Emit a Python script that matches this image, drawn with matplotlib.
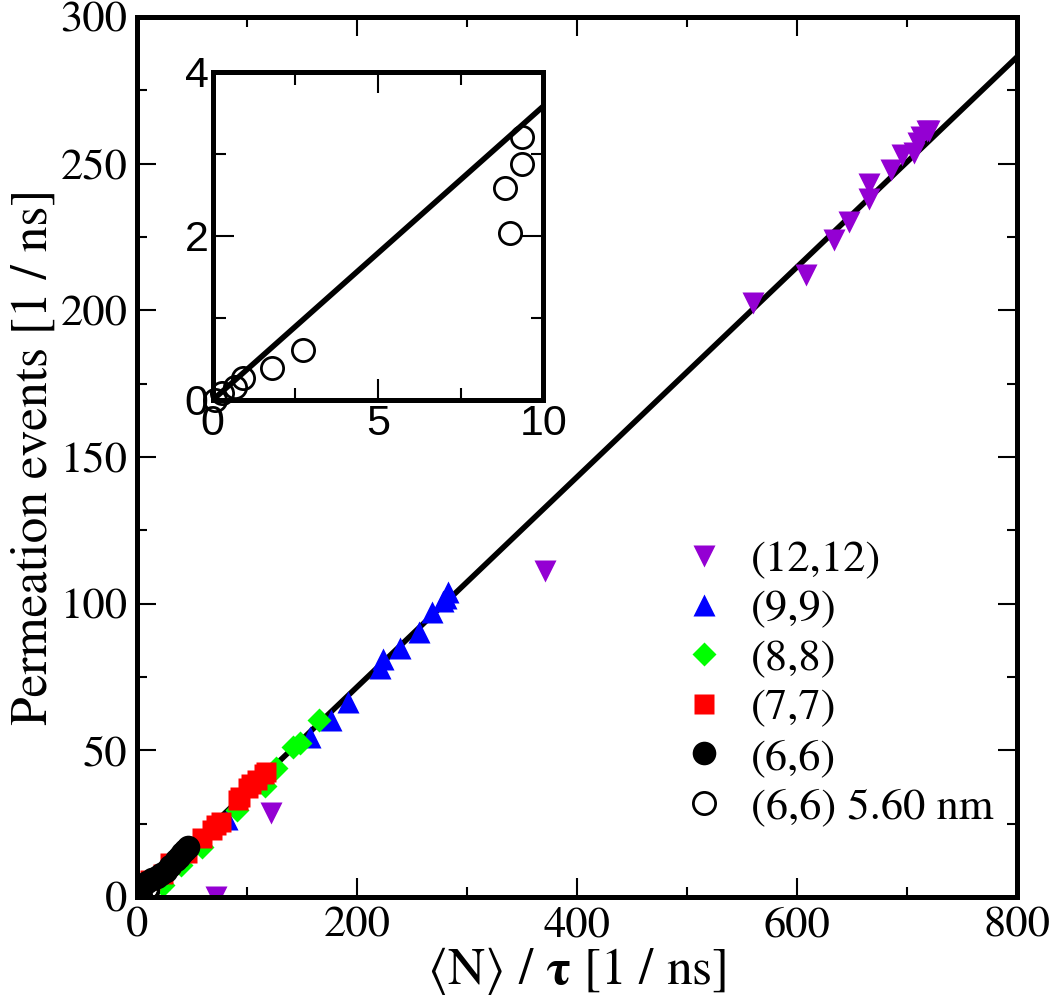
import matplotlib
matplotlib.use("Agg")
import matplotlib.pyplot as plt
from matplotlib.ticker import MultipleLocator
import numpy as np

# fitted line: events = SLOPE * <N>/tau
SLOPE = 0.358

# (12,12)
x_12 = [560, 608, 634, 647, 665, 665, 685, 695, 706, 710, 713, 718, 720, 371, 122, 72]
y_12 = [202.5, 212, 224, 230, 238, 243, 248, 253, 253.5, 257, 259, 261, 261, 111, 28.5, 0]
# (9,9)
x_9 = [283, 281, 278, 268, 256, 239, 224, 221, 192, 176, 157, 82, 20]
y_9 = [104, 102, 101, 97, 90.5, 85, 81, 78, 66.5, 60.5, 54.7, 26.5, 6]
# (8,8)
x_8 = [165, 148, 142, 126, 116, 91, 59, 40, 24]
y_8 = [60.3, 52.5, 51, 44, 38, 29.5, 17, 11, 4]
# (7,7)
x_7 = [117, 115, 109, 104, 101, 94, 92, 76, 72, 68, 59, 45, 30, 24, 12, 4]
y_7 = [42.5, 42, 40, 38.5, 37, 34, 33, 25.5, 24.5, 22.8, 20, 15, 11.6, 8, 5.8, 2]
# (6,6)
x_6 = [46, 44, 41, 38, 35, 30, 26, 22, 18, 14, 9, 5, 2, 0.5, 0.2]
y_6 = [17, 16, 15, 13.7, 12.5, 10.5, 9, 8, 6.9, 6, 5.2, 4, 3, 2, 0.5]
# (6,6) 5.60 nm
x_6l = [9.36, 9.36, 8.85, 8.99, 2.72, 1.78, 0.93, 0.68, 0.27, 0.07]
y_6l = [3.20, 2.875, 2.58, 2.03, 0.61, 0.39, 0.27, 0.16, 0.08, 0.0]

SERIF = ["STIXGeneral", "Liberation Serif", "DejaVu Serif"]
plt.rcParams["font.family"] = SERIF
plt.rcParams["mathtext.fontset"] = "stix"

fig = plt.figure(figsize=(10.5, 10.08), dpi=100)
ax = fig.add_axes([0.1305, 0.1101, 0.8381, 0.8730])

xl = np.array([0, 800])
ax.plot(xl, SLOPE * xl, color="k", lw=4, zorder=1)
ax.plot(x_12, y_12, "v", ms=16.5, color="#9400d3", mec="none", label="(12,12)", zorder=2)
ax.plot(x_9, y_9, "^", ms=16.5, color="#0000ff", mec="none", label="(9,9)", zorder=2)
ax.plot(x_8, y_8, "D", ms=12, color="#00ff00", mec="none", label="(8,8)", zorder=2)
ax.plot(x_7, y_7, "s", ms=15, color="#ff0000", mec="none", label="(7,7)", zorder=2)
ax.plot(x_6, y_6, "o", ms=17, color="k", mec="none", label="(6,6)", zorder=2)
ax.plot(x_6l, y_6l, "o", ms=16, mfc="none", mec="k", mew=2, label="(6,6) 5.60 nm", zorder=2)

ax.set_xlim(0, 800)
ax.set_ylim(0, 300)
ax.xaxis.set_major_locator(MultipleLocator(200))
ax.xaxis.set_minor_locator(MultipleLocator(100))
ax.yaxis.set_major_locator(MultipleLocator(50))
ax.yaxis.set_minor_locator(MultipleLocator(25))
ax.tick_params(which="both", direction="in", top=True, right=True, labelsize=32, width=1.5)
ax.tick_params(which="major", length=14, pad=7)
ax.tick_params(which="minor", length=7)
for sp in ax.spines.values():
    sp.set_linewidth(3.6)
ax.set_xlabel(r"$\langle$N$\rangle$ / $\mathbf{\tau}$ [1 / ns]", fontsize=37, labelpad=0)
ax.set_ylabel("Permeation events [1 / ns]", fontsize=37, labelpad=2)

ax.legend(loc="lower left", bbox_to_anchor=(0.599, 0.059), frameon=False, fontsize=32,
          handlelength=1.0, handletextpad=0.55, labelspacing=0.21, borderaxespad=0)

# inset
ins = fig.add_axes([0.2026, 0.6032, 0.3149, 0.3257])
xi = np.array([0, 10])
ins.plot(xi, SLOPE * xi, color="k", lw=4, zorder=1)
ins.plot(x_6l, y_6l, "o", ms=16, mfc="none", mec="k", mew=2, zorder=2, clip_on=False)
ins.set_xlim(0, 10)
ins.set_ylim(0, 4)
ins.xaxis.set_major_locator(MultipleLocator(5))
ins.xaxis.set_minor_locator(MultipleLocator(2.5))
ins.yaxis.set_major_locator(MultipleLocator(2))
ins.yaxis.set_minor_locator(MultipleLocator(1))
ins.tick_params(which="both", direction="in", top=True, right=True, labelsize=31, width=1.5, pad=3)
ins.tick_params(which="major", length=15)
ins.tick_params(which="minor", length=9)
for lab in ins.get_xticklabels() + ins.get_yticklabels():
    lab.set_family(["Liberation Sans", "DejaVu Sans"])
for sp in ins.spines.values():
    sp.set_linewidth(3.6)

fig.savefig("out.png", dpi=100)
plt.close(fig)
